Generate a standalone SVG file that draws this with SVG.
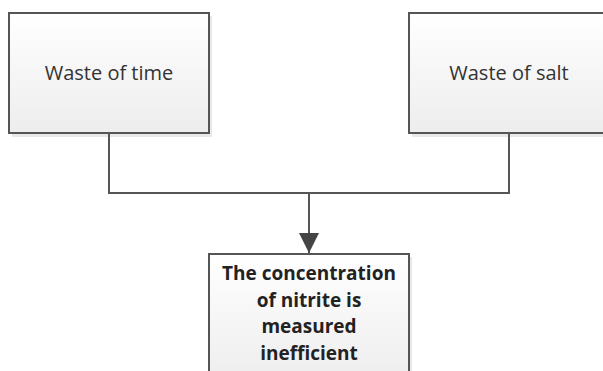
<svg xmlns="http://www.w3.org/2000/svg" width="603" height="371" viewBox="0 0 603 371">
<defs>
<linearGradient id="g" x1="0" y1="0" x2="0" y2="1">
<stop offset="0" stop-color="#ffffff"/>
<stop offset="1" stop-color="#ededed"/>
</linearGradient>
<marker id="arr" markerWidth="20" markerHeight="20" viewBox="0 0 20 20" refX="20" refY="10" orient="auto" markerUnits="userSpaceOnUse">
<path d="M0,0 L20,10 L0,20 Z" fill="#444"/>
</marker>
</defs>
<style>
.shadow{fill:#d8d8d8;opacity:0.6}
.box{fill:url(#g);stroke:#555;stroke-width:2}
.lbl{font-family:"Open Sans","Noto Sans",sans-serif;font-size:20px;fill:#333;text-anchor:middle}
.bold{font-weight:bold;font-size:19px;fill:#222}
.conn{fill:none;stroke:#555;stroke-width:2}
</style>
<rect width="603" height="371" fill="#ffffff"/>
<g id="node-time">
<rect class="shadow" x="12" y="16" width="200" height="121"/>
<rect class="box" x="9" y="13" width="200" height="120"/>
<text class="lbl" x="109" y="80">Waste of time</text>
</g>
<g id="node-salt">
<rect class="shadow" x="412" y="16" width="200" height="121"/>
<rect class="box" x="409" y="13" width="200" height="120"/>
<text class="lbl" x="509" y="80">Waste of salt</text>
</g>
<g id="node-nitrite">
<rect class="shadow" x="212" y="257" width="200" height="130"/>
<rect class="box" x="209" y="254" width="200" height="130"/>
<text class="lbl bold" x="309" y="280">The concentration</text>
<text class="lbl bold" x="309" y="306.5">of nitrite is</text>
<text class="lbl bold" x="309" y="333">measured</text>
<text class="lbl bold" x="309" y="359.5">inefficient</text>
</g>
<g id="connectors">
<path class="conn" d="M109,133 V193 H509 V133"/>
<path class="conn" d="M309,193 V253" marker-end="url(#arr)"/>
</g>
</svg>
